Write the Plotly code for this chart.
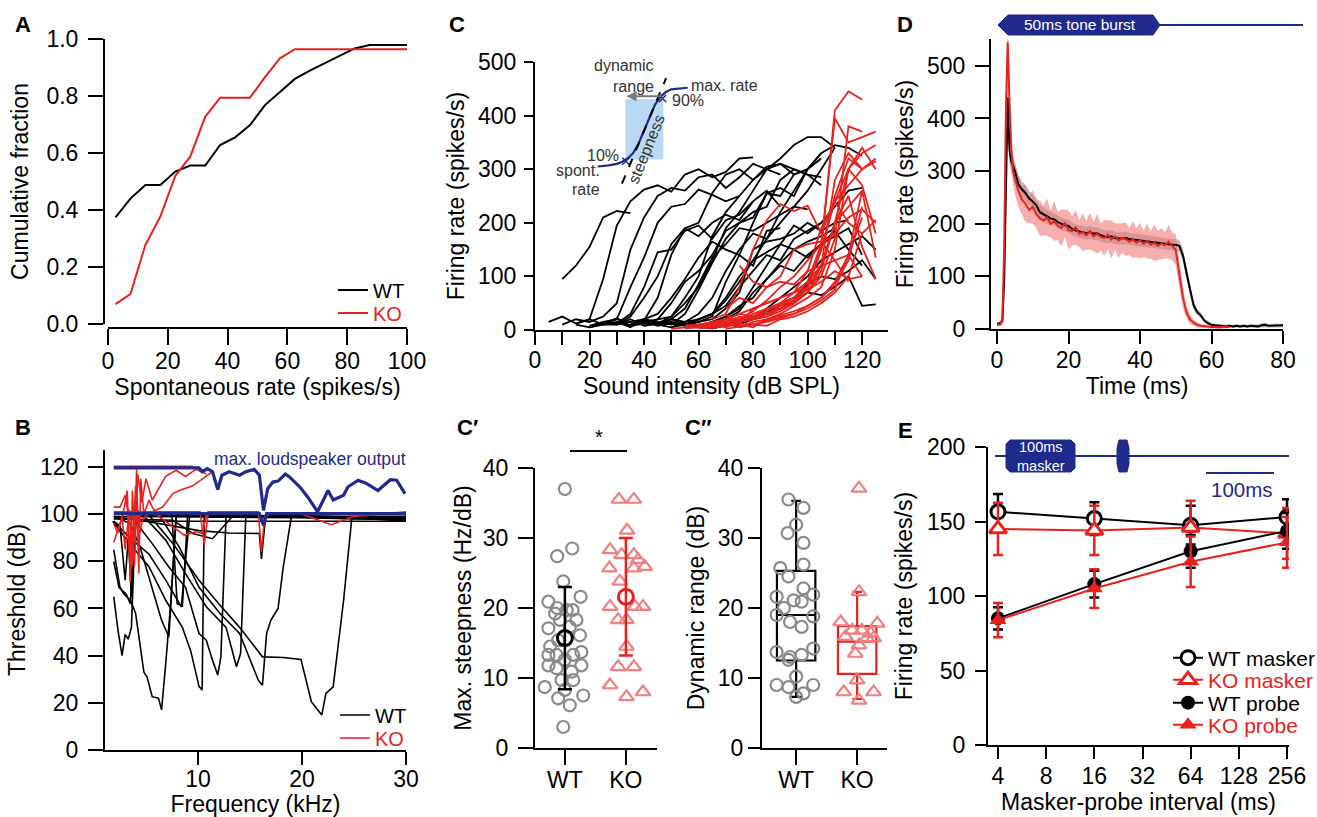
import plotly.graph_objects as go

W, H = 1317, 817
RED = '#e8211e'
PINK = '#f08080'
GRAY = '#8a8a8a'
NAVY = '#1f2a8c'
FONT = 'Liberation Sans, Arial, Helvetica, sans-serif'

# ---------------- Panel A: cumulative fraction of spontaneous rate
a_rate_wt = [2.5, 7.5, 12.5, 17.5, 22.5, 27.5, 32.5, 37.5, 42.5, 47.5, 52.5, 57.5, 62.5, 67.5, 72.5, 77.5, 82.5, 87.5, 100]
a_cdf_wt = [0.374, 0.44, 0.488, 0.488, 0.535, 0.556, 0.556, 0.628, 0.655, 0.698, 0.768, 0.815, 0.86, 0.889, 0.915, 0.94, 0.967, 0.979, 0.979]
a_rate_ko = [2.5, 7.5, 12.5, 17.5, 22.5, 27.5, 32.5, 37.5, 42.5, 47.5, 52.5, 57.5, 62.5, 100]
a_cdf_ko = [0.07, 0.105, 0.277, 0.377, 0.52, 0.587, 0.727, 0.794, 0.794, 0.794, 0.866, 0.932, 0.964, 0.964]

# ---------------- Panel B: tuning curves (frequency kHz, threshold dB)
b_wt_freq = [
    [1.9, 2.3, 2.7, 3.0, 3.3, 3.6, 4.0, 8, 16, 30],
    [1.9, 2.25, 2.5, 2.9, 3.5, 4.0, 4.5, 4.8, 5.1, 5.6, 6.2, 6.5, 6.9, 7.4, 7.9, 16, 30],
    [1.8, 3.0, 5.3, 6.9, 8.5, 9.3, 10.1, 10.4, 10.6, 20, 30],
    [1.9, 3.7, 5.3, 6.9, 8.4, 8.7, 9.2, 20, 30],
    [3.5, 5.6, 7.2, 8.8, 10.1, 10.8, 11.4, 11.9, 12.2, 12.7, 30],
    [4.7, 6.9, 8.8, 10.8, 12.7, 13.7, 14.1, 14.6, 30],
    [6.3, 8.2, 10.1, 12.1, 14, 15.3, 15.8, 16.2, 16.6, 17, 17.7, 18.2, 19, 30],
    [5.3, 7.6, 10.1, 12, 14, 16.2, 18.2, 19.9, 20.9, 21.9, 22.3, 23, 24, 24.8, 30],
    [1.9, 7.5, 8.0, 8.5, 9.0, 30],
    [1.9, 7.6, 9.5, 11.4, 13.3, 30],
    [1.9, 5, 10.1, 13, 15.9, 16.1, 16.5, 30],
    [1.9, 2.5, 3.0, 3.3, 3.6, 3.9, 30],
    [1.9, 2.4, 3.1, 3.5, 3.8, 4.2, 30],
    [1.9, 3.5, 4.5, 5.5, 6.5, 7.2, 7.9, 30],
]
b_wt_thr = [
    [65, 51, 40, 49, 47, 52, 99, 99.5, 99, 98],
    [85, 75, 69, 66, 63.5, 58, 42, 33, 31, 22.6, 22, 17, 36.7, 63.5, 99.5, 99, 98.5],
    [97, 90, 77.6, 63.5, 52, 42, 27, 25.4, 98.8, 98.5, 97.5],
    [96.7, 89, 83, 72, 60.7, 74.8, 99.5, 99, 98],
    [99.5, 87.5, 77.6, 69, 49.4, 46.6, 38, 31.8, 39.5, 99.5, 98],
    [99.5, 89, 74.8, 60.7, 52, 35.3, 41, 99.5, 98.5],
    [99.5, 86, 69, 58, 49.4, 35.3, 29.6, 27.5, 49.4, 55, 60, 77.6, 99.5, 98],
    [99.5, 87.5, 72, 62, 52, 39.5, 39.2, 38.4, 20.5, 14.8, 24, 26.8, 63.5, 98.8, 97],
    [99, 99, 62, 61, 99, 99],
    [98, 97.4, 91.8, 89.6, 99, 98.5],
    [99, 97, 93, 92, 91.8, 81, 99, 97.5],
    [97, 95, 72, 90, 65, 97, 97],
    [80, 69, 66, 62, 90, 99, 99],
    [99, 96, 85, 70, 55, 48, 99, 98.5],
]
b_ko_freq = [
    [1.9, 9.5],
    [1.9, 10.2, 10.6, 11, 15.8, 16.1, 16.4, 17, 20, 22.8, 25, 30],
    [1.9, 2.5, 3.0, 3.3, 3.5, 3.7, 3.9, 4.1, 4.3, 4.5, 4.8, 5.3, 5.6, 6.2, 7],
    [1.9, 2.4, 2.8, 3.2, 3.4, 3.6, 3.9, 4.2, 4.6, 5.0, 5.6, 6.9, 7.9, 8.8, 9.8, 10.8],
    [5.6, 6.6, 7.6, 8.2, 9.5, 10.4, 11.4],
    [6.3, 7.6, 8.7, 9.8, 10.4, 10.9],
    [1.9, 2.3, 2.7, 3.0, 3.4, 3.7, 4.0, 4.4, 4.7, 5.2],
]
b_ko_thr = [
    [120.3, 120.3],
    [101, 101, 87, 101, 101, 84, 99, 100, 100, 95.5, 99, 101],
    [103, 103, 108, 100, 71, 110, 88, 119, 75, 115, 100, 106, 103, 99, 101],
    [88, 95, 100, 110, 82, 96, 78, 117, 105, 115, 106, 116, 118.6, 116, 119, 117],
    [101, 103, 108.7, 110, 112, 115, 118],
    [98.8, 94.6, 91, 92.5, 91.8, 101],
    [96, 92, 99, 85, 102, 78, 112, 92, 98, 100],
]
b_spk_freq_hi = [1.9, 10.1, 10.4, 10.9, 11.4, 11.9, 12.3, 13, 14, 14.6, 15.4, 15.9, 16.3, 16.7, 17.2, 17.7, 18.4, 18.8,
                 19.8, 20.6, 21.5, 22.5, 23, 24, 24.4, 25.4, 26.2, 27.3, 28.5, 29.1, 29.9]
b_spk_thr_hi = [119.6, 119.6, 118, 119.3, 118, 110.4, 116.5, 118, 116.5, 118, 119, 116.5, 101.6, 110.8, 113.6, 114, 117,
                115.8, 111.5, 107, 101, 110, 106, 108, 111.5, 114.4, 113, 110, 114.6, 114.4, 108.7]
b_spk_freq_lo = [1.9, 15.9, 16.3, 16.6, 30]
b_spk_thr_lo = [100.2, 100.2, 95.3, 100.2, 100.2]

# ---------------- Panel C: rate-level functions (start level dB, rates at 5 dB steps)
c_step = 5
c_wt_start = [10, 5, 10, 15, 20, 15, 20, 25, 20, 30, 25, 35, 40, 45, 50, 55, 40, 60, 60, 45, 30, 45, 65, 35, 55]
c_wt_rates = [
    [95, 120, 155, 210, 222, 218],
    [15, 25, 12, 20, 95, 195, 240, 262, 270, 258, 290, 300, 285, 295, 320, 322],
    [10, 20, 15, 25, 50, 150, 210, 250, 265, 260, 285, 290, 265, 285, 310, 300, 290],
    [10, 5, 15, 20, 80, 135, 200, 230, 235, 262, 252, 240, 250],
    [8, 15, 12, 30, 80, 145, 150, 185, 195, 170, 205, 215, 240],
    [12, 20, 10, 10, 25, 60, 100, 160, 190, 175, 200, 215, 205, 240, 260, 230],
    [5, 10, 20, 15, 18, 60, 140, 190, 200, 255, 290, 300, 280, 305, 310, 290],
    [10, 15, 5, 20, 30, 60, 95, 135, 165, 150, 140, 120, 185, 190],
    [5, 12, 22, 8, 15, 20, 50, 90, 110, 140, 185, 200, 210, 255, 250, 290, 300, 330],
    [10, 15, 20, 12, 20, 40, 85, 135, 160, 190, 185, 200, 215, 230, 225],
    [15, 10, 20, 8, 12, 25, 60, 100, 175, 220, 250, 280, 300, 320, 345, 360, 360, 340],
    [10, 15, 8, 20, 15, 30, 60, 110, 150, 180, 170, 200, 230, 260, 300, 340],
    [8, 12, 15, 10, 20, 30, 55, 90, 130, 145, 160, 150, 165, 175, 190],
    [10, 5, 15, 20, 30, 45, 80, 110, 140, 130, 170, 185, 200],
    [5, 10, 8, 15, 25, 45, 60, 95, 120, 110, 140, 160, 185, 150, 120],
    [5, 8, 12, 20, 35, 70, 95, 125, 150, 135, 160, 175, 190, 140],
    [15, 10, 20, 10, 15, 25, 90, 140, 200, 255, 265, 250, 300, 320],
    [5, 8, 10, 15, 22, 30, 50, 60, 85, 100, 95, 110, 130, 95],
    [5, 3, 10, 12, 20, 35, 40, 55, 70, 65, 80, 100, 45, 48],
    [10, 12, 8, 15, 20, 40, 70, 150, 165, 170, 180, 200, 185, 200, 205],
    [15, 8, 12, 20, 25, 50, 80, 130, 190, 220, 260, 300, 310, 300, 290, 285],
    [8, 12, 10, 20, 30, 60, 100, 130, 170, 220, 260, 300, 330, 345, 340, 325],
    [3, 8, 10, 20, 40, 60, 80, 100, 130, 145, 160, 175, 150],
    [10, 20, 15, 10, 30, 75, 125, 170, 200, 220, 230, 280, 300, 290, 270],
    [10, 5, 15, 25, 40, 80, 120, 160, 195, 180, 200, 230, 260, 265],
]
c_ko_start = [50, 55, 60, 70, 60, 60, 55, 60, 70, 75, 65, 60, 75, 65, 55, 70, 60, 65, 70, 75]
c_ko_rates = [
    [2, 5, 8, 10, 15, 20, 25, 30, 40, 55, 80, 150, 410, 445, 430],
    [5, 8, 10, 12, 18, 25, 30, 45, 60, 90, 160, 395, 350, 360, 370],
    [3, 10, 5, 15, 20, 25, 35, 50, 70, 120, 280, 330, 300, 320],
    [30, 80, 150, 205, 235, 222, 232, 180, 240, 200, 180, 205],
    [5, 8, 15, 20, 25, 30, 40, 55, 80, 150, 250, 320, 300, 315],
    [10, 5, 15, 25, 20, 30, 40, 50, 70, 110, 200, 300, 340, 300],
    [3, 5, 10, 8, 15, 20, 25, 40, 50, 80, 150, 240, 300, 270, 180],
    [10, 15, 20, 30, 40, 50, 60, 70, 90, 120, 200, 250, 155, 95],
    [40, 60, 50, 80, 90, 85, 110, 120, 130, 90],
    [120, 90, 80, 100, 150, 160, 165, 130, 140, 100],
    [20, 30, 10, 40, 50, 60, 70, 80, 120, 200, 230, 260, 135],
    [5, 10, 20, 15, 30, 40, 45, 55, 70, 100, 170, 380, 370],
    [10, 5, 20, 30, 45, 60, 80, 150, 300, 330, 345],
    [15, 20, 30, 25, 40, 50, 60, 75, 90, 110, 95, 100],
    [8, 10, 12, 15, 20, 25, 35, 50, 70, 110, 190, 240, 270, 300],
    [10, 20, 35, 55, 80, 100, 130, 160, 180, 210, 225, 200],
    [5, 3, 8, 12, 10, 18, 25, 30, 45, 60, 90, 140, 210],
    [8, 12, 5, 15, 20, 28, 35, 45, 60, 85, 130, 230],
    [2, 6, 10, 15, 22, 30, 40, 55, 75, 140, 260],
    [5, 10, 8, 20, 25, 35, 50, 70, 100, 180],
]
# schematic sigmoid in the inset
c_inset_level = [23, 27, 30, 32, 34, 36, 38, 40, 42, 44, 46, 48, 50, 53, 56]
c_inset_rate = [305, 307, 310, 314, 320, 330, 348, 372, 398, 420, 435, 444, 449, 451, 452]

# ---------------- Panel C': max steepness
cp_groups = ['WT', 'KO']
cp_wt = [37.0, 27.4, 28.5, 23.8, 21.6, 20.9, 20.0, 19.2, 19.7, 19.7, 18.3, 18.3, 17.1, 17.3, 16.1, 15.4, 14.5, 13.7,
         13.3, 13.3, 13.3, 12.6, 11.8, 11.8, 11.4, 10.9, 9.7, 9.7, 8.7, 8.3, 7.1, 7.5, 6.1, 3.0]
cp_wt_jitter = [0, -0.126, 0.12, -0.027, 0.257, -0.27, -0.126, -0.16, 0.03, 0.126, -0.08, 0.19, -0.27, 0.08, 0.246,
                -0.11, -0.24, 0.27, -0.27, -0.137, 0.137, 0, -0.27, 0.27, -0.137, 0.11, -0.055, 0.137, -0.33, 0,
                -0.11, 0.3, 0.08, -0.027]
cp_ko = [35.5, 35.5, 31.1, 28.3, 27.6, 27.6, 26.9, 25.9, 25.7, 25.7, 23.8, 20.2, 20.2, 20.2, 18.3, 18.3, 14.5, 11.6,
         11.6, 9.0, 8.0, 7.3]
cp_ko_jitter = [-0.115, 0.13, 0.02, -0.26, -0.07, 0.13, 0.2, 0.31, -0.27, 0.13, -0.1, -0.26, 0.15, 0.28, -0.126,
                0.01, 0.01, -0.126, 0.13, -0.26, 0.28, 0.01]
cp_mean = [15.7, 21.6]
cp_sd = [7.3, 8.4]

# ---------------- Panel C'': dynamic range
cpp_wt = [35.5, 34.3, 31.9, 30.7, 29.3, 25.7, 26.2, 24.5, 22.8, 21.6, 21.1, 21.9, 20.0, 20.9, 19.0, 18.8, 18.0, 17.3,
          13.7, 14.2, 13.0, 13.3, 12.6, 10.2, 9.0, 8.7, 9.0, 7.8, 7.3]
cpp_wt_jitter = [-0.126, 0.12, 0, -0.14, 0.12, -0.26, 0.12, -0.126, 0.12, -0.32, -0.04, 0.28, -0.2, 0.09, -0.32, 0.28,
                 -0.1, 0.09, -0.32, 0.28, -0.1, 0.09, -0.126, 0, -0.32, -0.126, 0.28, 0.12, 0]
cpp_ko = [37.1, 22.3, 18.0, 17.8, 16.8, 16.8, 16.4, 15.9, 15.7, 15.7, 14.7, 13.5, 9.7, 8.0, 8.0, 6.8]
cpp_ko_jitter = [0.03, 0.03, -0.27, 0.33, -0.08, 0.08, 0.22, -0.19, 0.16, 0.27, 0.03, -0.03, 0, -0.22, 0.27, 0.03]
cpp_q1 = [12.5, 10.6]
cpp_median = [19.0, 15.2]
cpp_q3 = [25.3, 17.4]
cpp_lo = [7.3, 7.0]
cpp_hi = [35.3, 22.3]

# ---------------- Panel D: PSTH
d_time_wt = [0, 0.5, 1, 1.5, 2, 2.5, 3, 3.5, 4, 4.5, 5] + list(range(6, 81))
d_rate_wt = [10, 10, 12, 15, 90, 300, 440, 340, 318, 310, 300,
             275, 265, 258, 248, 242, 235, 222, 218, 213, 210,
             208, 203, 200, 197, 196, 190, 187, 185, 183, 182,
             184, 181, 182, 178, 176, 175, 176, 173, 172, 172,
             173, 171, 170, 169, 168, 167, 166, 165, 164, 163,
             163, 162, 161, 160, 160, 158, 140, 105, 75, 45,
             32, 26, 16, 11, 8, 7, 6, 6, 5, 6,
             5, 6, 5, 6, 5, 6, 6, 5, 7, 8,
             6, 6, 7, 6, 7]
d_sem_wt = [3, 3, 4, 5, 20, 30, 35, 25, 20, 18, 18,
            16, 15, 15, 14, 14, 14, 13, 13, 13, 13,
            12, 12, 12, 12, 12, 12, 12, 12, 12, 12,
            12, 12, 12, 12, 12, 12, 12, 12, 12, 12,
            12, 12, 12, 12, 12, 11, 11, 11, 11, 11,
            11, 11, 11, 11, 11, 11, 12, 12, 10, 8,
            6, 5, 4, 4, 3, 3, 3, 3, 3, 3,
            3, 3, 3, 3, 3, 3, 3, 3, 4, 4,
            3, 3, 4, 3, 4]
d_time_ko = [0, 0.5, 1, 1.5, 2, 2.5, 3, 3.5, 4, 4.5, 5] + list(range(6, 66))
d_rate_ko = [8, 8, 9, 20, 150, 420, 545, 430, 340, 300, 285,
             262, 245, 238, 226, 232, 218, 210, 206, 212, 200,
             205, 196, 192, 201, 188, 186, 193, 181, 184, 178,
             186, 176, 181, 175, 173, 179, 170, 176, 168, 173,
             171, 166, 170, 164, 168, 162, 167, 160, 164, 158,
             162, 159, 166, 157, 150, 105, 60, 32, 18, 12,
             8, 6, 5, 4, 4, 4, 3, 4, 4, 4]
d_sem_ko = [3, 3, 4, 8, 40, 60, 40, 35, 30, 28, 28,
            30, 28, 35, 25, 32, 26, 34, 28, 36, 25,
            38, 27, 35, 26, 37, 28, 33, 25, 36, 27,
            35, 28, 38, 26, 34, 27, 36, 25, 33, 28,
            32, 26, 35, 27, 34, 25, 33, 26, 35, 28,
            30, 25, 32, 26, 30, 25, 20, 12, 8, 6,
            5, 4, 3, 3, 3, 3, 3, 3, 3, 3]

# ---------------- Panel E: forward masking
e_interval = [4, 16, 64, 256]
e_wt_masker = [156.5, 152, 147.5, 153]
e_wt_masker_err = [12, 11, 13, 12]
e_ko_masker = [145, 144, 146, 142]
e_ko_masker_err = [17.5, 16.5, 18, 17]
e_wt_probe = [85, 108, 130, 143.7]
e_wt_probe_err = [7.5, 9, 11, 12]
e_ko_probe = [83.8, 105, 123, 136]
e_ko_probe_err = [11.5, 13, 17, 17]


# ================= helpers
def xd(a, b):
    return [a / W, b / W]


def yd(top, bottom):
    return [1 - bottom / H, 1 - top / H]


def PX(x):
    return x / W


def PY(y):
    return 1 - y / H


def axis(tl=13, ts=0, **kw):
    d = dict(showgrid=False, zeroline=False, showline=True, linecolor='black', linewidth=2,
             ticks='outside', ticklen=tl, ticklabelstandoff=ts, tickwidth=2, tickcolor='black', automargin=False,
             tickfont=dict(size=23, color='black', family=FONT))
    d.update(kw)
    return d


def ttl(text, standoff):
    return dict(text=text, font=dict(size=23, color='black', family=FONT), standoff=standoff)


def leg(x_left, y_mid, size=20):
    return dict(x=PX(x_left), y=PY(y_mid), xanchor='left', yanchor='middle', bgcolor='rgba(0,0,0,0)',
                font=dict(size=size, color='black'), tracegroupgap=0, itemwidth=30, borderwidth=0)


def redtxt(s):
    return '<span style="color:%s">%s</span>' % (RED, s)


fig = go.Figure()

# ---- A
fig.add_trace(go.Scatter(x=a_rate_wt, y=a_cdf_wt, mode='lines', line=dict(color='black', width=2),
                         name='WT', legend='legend', showlegend=True, xaxis='x', yaxis='y'))
fig.add_trace(go.Scatter(x=a_rate_ko, y=a_cdf_ko, mode='lines', line=dict(color=RED, width=2),
                         name=redtxt('KO'), legend='legend2', showlegend=True, xaxis='x', yaxis='y'))

# ---- B
for i, (f, t) in enumerate(zip(b_wt_freq, b_wt_thr)):
    fig.add_trace(go.Scatter(x=f, y=t, mode='lines', line=dict(color='black', width=1.6),
                             name='WT', legend='legend3', showlegend=(i == 0), xaxis='x2', yaxis='y2'))
for i, (f, t) in enumerate(zip(b_ko_freq, b_ko_thr)):
    fig.add_trace(go.Scatter(x=f, y=t, mode='lines', line=dict(color=RED, width=1.6),
                             name=redtxt('KO'), legend='legend4', showlegend=(i == 0), xaxis='x2', yaxis='y2'))
fig.add_trace(go.Scatter(x=b_spk_freq_hi, y=b_spk_thr_hi, mode='lines', line=dict(color=NAVY, width=3.2),
                         showlegend=False, xaxis='x2', yaxis='y2'))
fig.add_trace(go.Scatter(x=b_spk_freq_lo, y=b_spk_thr_lo, mode='lines', line=dict(color=NAVY, width=3.2),
                         showlegend=False, xaxis='x2', yaxis='y2'))

# ---- C
for s, r in zip(c_wt_start, c_wt_rates):
    fig.add_trace(go.Scatter(x=[s + c_step * k for k in range(len(r))], y=r, mode='lines',
                             line=dict(color='black', width=1.8), showlegend=False, xaxis='x3', yaxis='y3'))
for s, r in zip(c_ko_start, c_ko_rates):
    fig.add_trace(go.Scatter(x=[s + c_step * k for k in range(len(r))], y=r, mode='lines',
                             line=dict(color=RED, width=1.8), showlegend=False, xaxis='x3', yaxis='y3'))
fig.add_trace(go.Scatter(x=c_inset_level, y=c_inset_rate, mode='lines', line=dict(color=NAVY, width=2.2),
                         showlegend=False, xaxis='x3', yaxis='y3'))
fig.add_trace(go.Scatter(x=[33.3, 46.8], y=[315, 432], mode='markers',
                         marker=dict(symbol='x-thin', size=7, line=dict(color=NAVY, width=1.5)),
                         showlegend=False, xaxis='x3', yaxis='y3'))
fig.add_trace(go.Scatter(x=[31.9, 48.1], y=[273, 470], mode='lines', line=dict(color='black', width=2, dash='dash'),
                         showlegend=False, xaxis='x3', yaxis='y3'))

# ---- C'
fig.add_trace(go.Scatter(x=[0 + j for j in cp_wt_jitter], y=cp_wt, mode='markers',
                         marker=dict(symbol='circle-open', size=12, color=GRAY, line=dict(width=2.2, color=GRAY)),
                         showlegend=False, xaxis='x4', yaxis='y4'))
fig.add_trace(go.Scatter(x=[1 + j for j in cp_ko_jitter], y=cp_ko, mode='markers',
                         marker=dict(symbol='triangle-up-open', size=13, color=PINK,
                                     line=dict(width=2.2, color=PINK)),
                         showlegend=False, xaxis='x4', yaxis='y4'))
fig.add_trace(go.Scatter(x=[0], y=[cp_mean[0]], mode='markers',
                         error_y=dict(type='data', array=[cp_sd[0]], color='black', thickness=2.5, width=7),
                         marker=dict(symbol='circle-open', size=15, color='black', line=dict(width=3, color='black')),
                         showlegend=False, xaxis='x4', yaxis='y4'))
fig.add_trace(go.Scatter(x=[1], y=[cp_mean[1]], mode='markers',
                         error_y=dict(type='data', array=[cp_sd[1]], color=RED, thickness=2.5, width=7),
                         marker=dict(symbol='circle-open', size=15, color=RED, line=dict(width=3, color=RED)),
                         showlegend=False, xaxis='x4', yaxis='y4'))

# ---- C''
for k, col in enumerate(['black', RED]):
    fig.add_trace(go.Box(x=[k], q1=[cpp_q1[k]], median=[cpp_median[k]], q3=[cpp_q3[k]],
                         lowerfence=[cpp_lo[k]], upperfence=[cpp_hi[k]], width=0.63, whiskerwidth=0.25,
                         fillcolor='rgba(0,0,0,0)', line=dict(color=col, width=2.2), boxpoints=False,
                         showlegend=False, hoverinfo='skip', xaxis='x5', yaxis='y5'))
fig.add_trace(go.Scatter(x=[0 + j for j in cpp_wt_jitter], y=cpp_wt, mode='markers',
                         marker=dict(symbol='circle-open', size=12, color=GRAY, line=dict(width=2.2, color=GRAY)),
                         showlegend=False, xaxis='x5', yaxis='y5'))
fig.add_trace(go.Scatter(x=[1 + j for j in cpp_ko_jitter], y=cpp_ko, mode='markers',
                         marker=dict(symbol='triangle-up-open', size=13, color=PINK,
                                     line=dict(width=2.2, color=PINK)),
                         showlegend=False, xaxis='x5', yaxis='y5'))

# ---- D
wt_up = [m + s for m, s in zip(d_rate_wt, d_sem_wt)]
wt_lo = [max(m - s, 0) for m, s in zip(d_rate_wt, d_sem_wt)]
ko_up = [m + s for m, s in zip(d_rate_ko, d_sem_ko)]
ko_lo = [max(m - s, 0) for m, s in zip(d_rate_ko, d_sem_ko)]
fig.add_trace(go.Scatter(x=d_time_wt + d_time_wt[::-1], y=wt_up + wt_lo[::-1], fill='toself',
                         fillcolor='rgba(150,150,150,0.65)', line=dict(width=0), mode='lines',
                         showlegend=False, hoverinfo='skip', xaxis='x6', yaxis='y6'))
fig.add_trace(go.Scatter(x=d_time_ko + d_time_ko[::-1], y=ko_up + ko_lo[::-1], fill='toself',
                         fillcolor='rgba(240,120,120,0.6)', line=dict(width=0), mode='lines',
                         showlegend=False, hoverinfo='skip', xaxis='x6', yaxis='y6'))
fig.add_trace(go.Scatter(x=d_time_wt, y=d_rate_wt, mode='lines', line=dict(color='black', width=2),
                         showlegend=False, xaxis='x6', yaxis='y6'))
fig.add_trace(go.Scatter(x=d_time_ko, y=d_rate_ko, mode='lines', line=dict(color=RED, width=2),
                         showlegend=False, xaxis='x6', yaxis='y6'))

# ---- E
fig.add_trace(go.Scatter(x=e_interval, y=e_wt_masker, mode='lines+markers', name='WT masker',
                         line=dict(color='black', width=2),
                         marker=dict(symbol='circle', size=14, color='white', line=dict(color='black', width=3)),
                         error_y=dict(type='data', array=e_wt_masker_err, color='black', thickness=2.5, width=5),
                         legend='legend5', showlegend=True, xaxis='x7', yaxis='y7'))
fig.add_trace(go.Scatter(x=e_interval, y=e_ko_masker, mode='lines+markers', name=redtxt('KO masker'),
                         line=dict(color=RED, width=2),
                         marker=dict(symbol='triangle-up', size=15, color='white', line=dict(color=RED, width=3)),
                         error_y=dict(type='data', array=e_ko_masker_err, color=RED, thickness=2.5, width=5),
                         legend='legend6', showlegend=True, xaxis='x7', yaxis='y7'))
fig.add_trace(go.Scatter(x=e_interval, y=e_wt_probe, mode='lines+markers', name='WT probe',
                         line=dict(color='black', width=2),
                         marker=dict(symbol='circle', size=14, color='black'),
                         error_y=dict(type='data', array=e_wt_probe_err, color='black', thickness=2.5, width=5),
                         legend='legend7', showlegend=True, xaxis='x7', yaxis='y7'))
fig.add_trace(go.Scatter(x=e_interval, y=e_ko_probe, mode='lines+markers', name=redtxt('KO probe'),
                         line=dict(color=RED, width=2),
                         marker=dict(symbol='triangle-up', size=15, color=RED),
                         error_y=dict(type='data', array=e_ko_probe_err, color=RED, thickness=2.5, width=5),
                         legend='legend8', showlegend=True, xaxis='x7', yaxis='y7'))

# ================= layout
c_ticks = list(range(0, 121, 10))
c_ticktext = [str(v) if v % 20 == 0 else '' for v in c_ticks]

layout = dict(
    width=W, height=H, autosize=False,
    margin=dict(l=0, r=0, t=0, b=0, pad=0, autoexpand=False),
    paper_bgcolor='white', plot_bgcolor='rgba(0,0,0,0)',
    font=dict(family=FONT, size=20, color='black'),
    # A
    xaxis=axis(16, -4, domain=xd(108, 407), range=[0, 100], anchor='free', position=PY(328),
               tickvals=list(range(0, 101, 20)), title=ttl('Spontaneous rate (spikes/s)', 5)),
    yaxis=axis(15, 5, domain=yd(39, 324), range=[0, 1], anchor='free', position=PX(104),
               tickvals=[0, 0.2, 0.4, 0.6, 0.8, 1.0], tickformat='.1f', title=ttl('Cumulative fraction', 10)),
    # B
    xaxis2=axis(13, -6, domain=xd(105, 406), range=[1.06, 30], anchor='y2', tickvals=[10, 20, 30],
                title=ttl('Frequency (kHz)', 6)),
    yaxis2=axis(15, 5, domain=yd(450, 750), range=[0, 127.2], anchor='x2', tickvals=list(range(0, 121, 20)),
                title=ttl('Threshold (dB)', 8)),
    # C
    xaxis3=axis(13, -5, domain=xd(535, 888), range=[0, 129.5], anchor='y3', tickvals=c_ticks, ticktext=c_ticktext,
                title=ttl('Sound intensity (dB SPL)', 6)),
    yaxis3=axis(9, 3, domain=yd(62, 330), range=[0, 500], anchor='x3', tickvals=list(range(0, 501, 100)),
                title=ttl('Firing rate (spikes/s)', 7)),
    # C'
    xaxis4=axis(15, -5, domain=xd(535, 657), range=[-0.49, 1.51], anchor='y4', tickvals=[0, 1], ticktext=cp_groups),
    yaxis4=axis(15, 5, domain=yd(468, 748), range=[0, 40], anchor='x4', tickvals=[0, 10, 20, 30, 40],
                title=ttl('Max. steepness (Hz/dB)', 5)),
    # C''
    xaxis5=axis(15, -5, domain=xd(762, 887), range=[-0.56, 1.49], anchor='y5', tickvals=[0, 1], ticktext=cp_groups),
    yaxis5=axis(12, 0, domain=yd(468, 748), range=[0, 40], anchor='x5', tickvals=[0, 10, 20, 30, 40],
                title=ttl('Dynamic range (dB)', 7)),
    # D
    xaxis6=axis(13, -4, domain=xd(991, 1283), range=[-1.68, 80], anchor='y6', tickvals=[0, 20, 40, 60, 80],
                title=ttl('Time (ms)', 6)),
    yaxis6=axis(14, 5, domain=yd(39, 329), range=[0, 551], anchor='x6', tickvals=list(range(0, 501, 100)),
                title=ttl('Firing rate (spikes/s)', 7)),
    # E
    xaxis7=axis(12, -3, domain=xd(988, 1289), type='log', range=[0.5396, 2.4207], anchor='y7',
                tickvals=[4, 8, 16, 32, 64, 128, 256], ticktext=['4', '8', '16', '32', '64', '128', '256'],
                title=ttl('Masker-probe interval (ms)', 3)),
    yaxis7=axis(11, 5, domain=yd(447, 745), range=[0, 200], anchor='x7', tickvals=[0, 50, 100, 150, 200],
                title=ttl('Firing rate (spikes/s)', 8)),
    # legends: one entry each, placed where the reference shows them
    legend=leg(333, 290),
    legend2=leg(333, 313),
    legend3=leg(335, 715),
    legend4=leg(335, 738),
    legend5=leg(1168, 658, 21),
    legend6=leg(1168, 680, 21),
    legend7=leg(1168, 703, 21),
    legend8=leg(1168, 725, 21),
)
fig.update_layout(**layout)

# ================= annotations / schematic decorations
ann = []
for lab, x, y in [('A', 23, 25), ('B', 23, 428), ('C', 457, 25), ('C\u2032', 468, 428), ('C\u2033', 698, 428),
                  ('D', 905, 25), ('E', 905, 430)]:
    ann.append(dict(text='<b>%s</b>' % lab, x=PX(x), y=PY(y), xref='paper', yref='paper', showarrow=False,
                    xanchor='center', yanchor='middle', font=dict(size=22, color='black')))


def note(text, x, y, size, color, **kw):
    d = dict(text=text, x=PX(x), y=PY(y), xref='paper', yref='paper', showarrow=False,
             xanchor='center', yanchor='middle', font=dict(size=size, color=color))
    d.update(kw)
    return d


# B text
ann.append(note('max. loudspeaker output', 310, 459, 17.5, NAVY))
# C inset texts
for txt, x, y in [('dynamic', 32.5, 494), ('range', 36.2, 455), ('max. rate', 69.4, 457), ('90%', 56.3, 429),
                  ('10%', 25, 326), ('spont.', 15.6, 298), ('rate', 18.75, 262)]:
    ann.append(dict(text=txt, x=x, y=y, xref='x3', yref='y3', showarrow=False, xanchor='center', yanchor='middle',
                    font=dict(size=16, color='#333333')))
ann.append(dict(text='steepness', x=40.8, y=337, xref='x3', yref='y3', showarrow=False, textangle=-68,
                xanchor='center', yanchor='middle', font=dict(size=16, color='#333333')))
ann.append(dict(text='', x=33.6, y=436, ax=46.9, ay=436, xref='x3', yref='y3', axref='x3', ayref='y3',
                showarrow=True, arrowhead=2, arrowsize=1, arrowwidth=2, arrowcolor='#777777'))
# C' significance star
ann.append(note('*', 599, 437, 20, 'black'))
# D tone burst label
ann.append(note('50ms tone burst', 1080, 25, 15.5, 'white'))
# E masker schematic labels
ann.append(note('100ms<br>masker', 1041, 456, 14.5, 'white'))
ann.append(note('100ms', 1242, 489, 20.5, NAVY))
fig.update_layout(annotations=ann)


def path(points):
    return 'M ' + ' L '.join('%.5f,%.5f' % (PX(x), PY(y)) for x, y in points) + ' Z'


shapes = [
    # C inset highlight box
    dict(type='rect', xref='x3', yref='y3', x0=33.1, x1=47.1, y0=318, y1=431, fillcolor='rgba(173,211,240,0.85)',
         line=dict(width=0), layer='below'),
    # C' significance bar
    dict(type='line', xref='paper', yref='paper', x0=PX(570), x1=PX(627), y0=PY(451), y1=PY(451),
         line=dict(color='black', width=2)),
    # D tone burst
    dict(type='line', xref='paper', yref='paper', x0=PX(1158), x1=PX(1303), y0=PY(25), y1=PY(25),
         line=dict(color=NAVY, width=2)),
    dict(type='path', xref='paper', yref='paper',
         path=path([(998, 25), (1008, 15), (1153, 15), (1160, 25), (1153, 35), (1008, 35)]),
         fillcolor=NAVY, line=dict(color=NAVY, width=1)),
    # E masker-probe schematic
    dict(type='line', xref='paper', yref='paper', x0=PX(995), x1=PX(1289), y0=PY(456), y1=PY(456),
         line=dict(color=NAVY, width=2)),
    dict(type='path', xref='paper', yref='paper',
         path=path([(1010, 440), (1071, 440), (1075, 444), (1075, 468), (1071, 472), (1010, 472), (1006, 468),
                    (1006, 444)]), fillcolor=NAVY, line=dict(color=NAVY, width=1)),
    dict(type='path', xref='paper', yref='paper',
         path=path([(1119, 440), (1127, 440), (1129, 448), (1129, 464), (1127, 472), (1119, 472), (1117, 464),
                    (1117, 448)]), fillcolor=NAVY, line=dict(color=NAVY, width=1)),
    dict(type='line', xref='paper', yref='paper', x0=PX(1206), x1=PX(1274), y0=PY(473), y1=PY(473),
         line=dict(color=NAVY, width=2)),
]
fig.update_layout(shapes=shapes)

fig.write_html("out.html", config={'displayModeBar': False},
               post_script="document.body.style.margin='0';")
